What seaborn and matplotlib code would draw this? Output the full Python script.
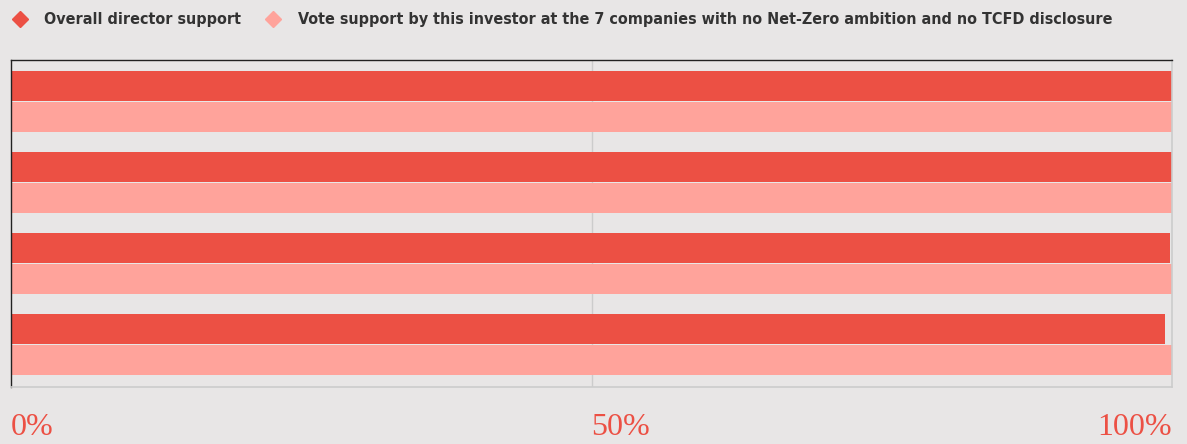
import pandas as pd
import matplotlib.pyplot as plt
import seaborn as sns
from matplotlib.lines import Line2D

# values (percent)
groups = ["G1", "G2", "G3", "G4"]
series_names = [
    "Overall director support",
    "Vote support by this investor at the 7 companies with no Net-Zero ambition and no TCFD disclosure",
]
overall_support = [100.0, 100.0, 99.8, 99.4]
investor_support = [100.0, 100.0, 100.0, 100.0]
tick_values = [0, 50, 100]
tick_labels = ["0%", "50%", "100%"]

colors = ["#ec5044", "#ffa39b"]
bg = "#e8e6e6"

rows = []
for g, a, b in zip(groups, overall_support, investor_support):
    rows.append({"group": g, "series": series_names[0], "value": a})
    rows.append({"group": g, "series": series_names[1], "value": b})
df = pd.DataFrame(rows)

sns.set_style("white")
fig = plt.figure(figsize=(11.87, 4.44), dpi=100, facecolor=bg)
ax = fig.add_axes([0.0093, 0.1284, 0.9781, 0.7365])
ax.set_facecolor(bg)

sns.barplot(
    data=df, y="group", x="value", hue="series", orient="h",
    palette=colors, width=0.765, gap=0.033, saturation=1,
    linewidth=0, ax=ax, legend=False,
)

ax.set_xlim(0, 100)
ax.set_ylim(3.53, -0.51)
ax.set_xlabel("")
ax.set_ylabel("")
ax.set_yticks([])
ax.set_xticks(tick_values)
ax.set_xticklabels(tick_labels, family="Liberation Serif", fontsize=23,
                   color="#ec5044")
for lbl, ha in zip(ax.get_xticklabels(), ["left", "left", "right"]):
    lbl.set_ha(ha)
ax.tick_params(axis="x", length=0, pad=19)
ax.axvline(50, color="#cccccc", lw=1, zorder=0)

for side in ["top", "left"]:
    ax.spines[side].set_color("#222222")
    ax.spines[side].set_linewidth(1)
for side in ["right", "bottom"]:
    ax.spines[side].set_color("#cccccc")
    ax.spines[side].set_linewidth(1.2)

handles = [
    Line2D([], [], marker="D", linestyle="none", markersize=8,
           markerfacecolor=c, markeredgecolor=c)
    for c in colors
]
fig.legend(
    handles, series_names, loc="upper left", bbox_to_anchor=(-0.009, 1.005),
    ncol=2, frameon=False, handletextpad=0.55, columnspacing=1.0,
    prop={"family": "DejaVu Sans", "stretch": "condensed",
          "size": 11.5, "weight": "bold"},
    labelcolor="#333333",
)

fig.savefig("out.png", dpi=100, facecolor=bg)
